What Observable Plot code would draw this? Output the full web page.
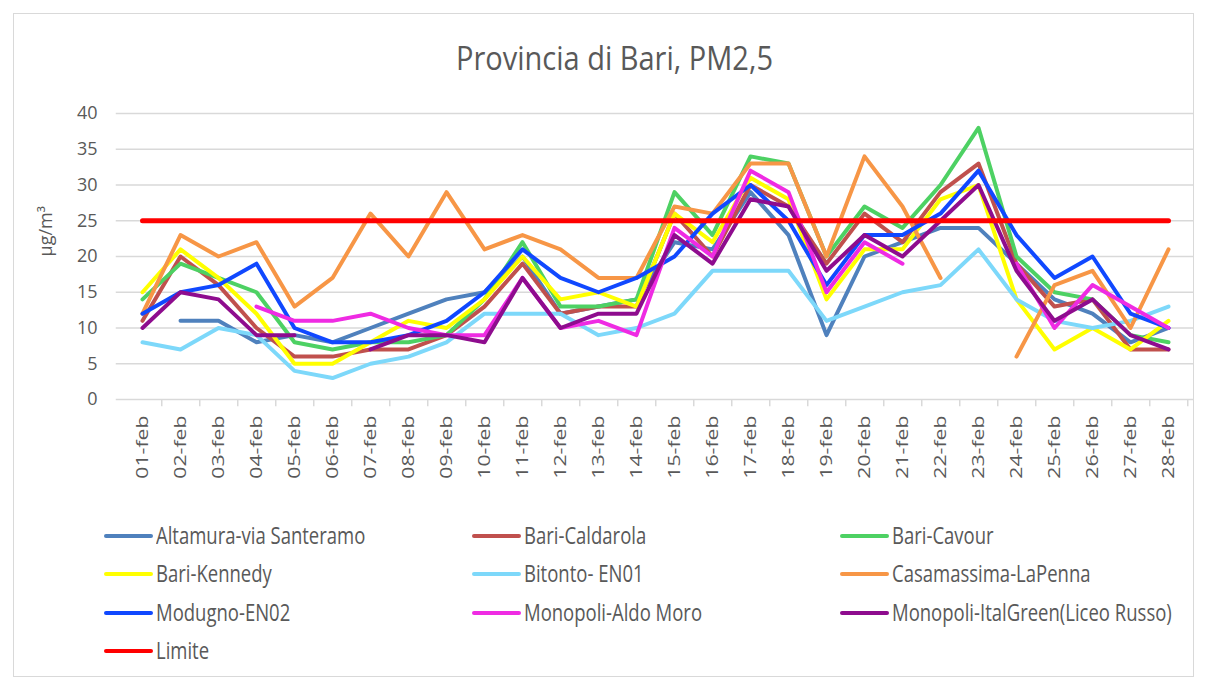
<!DOCTYPE html>
<html>
<head>
<meta charset="utf-8">
<script src="https://cdn.jsdelivr.net/npm/d3@7"></script>
<script src="https://cdn.jsdelivr.net/npm/@observablehq/plot@0.6"></script>
<style>
  body { margin: 0; background: #fff; font-family: "Open Sans", sans-serif; }
  #wrap { position: relative; width: 1205px; height: 682px; overflow: hidden; }
  #frame { position: absolute; left: 13px; top: 13px; width: 1181px; height: 664px; border: 1px solid #d9d9d9; box-sizing: border-box; }
  #title { position: absolute; left: 12px; top: 42px; width: 1205px; text-align: center; font-size: 29px; line-height: 32px; color: #595959; transform: scaleY(1.1); }
  #chart { position: absolute; left: 0; top: 0; }
  .lg-sw { position: absolute; width: 49px; height: 4px; border-radius: 2px; }
  .lg-tx { position: absolute; font-size: 18.5px; line-height: 20px; color: #595959; white-space: nowrap; transform: scaleY(1.24); transform-origin: left center; }
</style>
</head>
<body>
<div id="wrap">
  <div id="frame"></div>
  <div id="title">Provincia di Bari, PM2,5</div>
  <div id="chart"></div>
  <div id="legend"></div>
</div>
<script>
// ---------- DATA ----------
const dates = ["01-feb","02-feb","03-feb","04-feb","05-feb","06-feb","07-feb","08-feb","09-feb","10-feb",
  "11-feb","12-feb","13-feb","14-feb","15-feb","16-feb","17-feb","18-feb","19-feb","20-feb",
  "21-feb","22-feb","23-feb","24-feb","25-feb","26-feb","27-feb","28-feb"];

const altamura    = [null,11,11,8,9,8,10,12,14,15,20,12,13,14,22,21,29,23,9,20,22,24,24,19,14,12,8,10];
const caldarola   = [11,20,16,10,6,6,7,7,9,13,19,12,13,13,26,20,30,27,19,26,22,29,33,19,13,14,7,7];
const cavour      = [14,19,17,15,8,7,8,8,9,14,22,13,13,14,29,23,34,33,20,27,24,30,38,20,15,14,9,8];
const kennedy     = [15,21,17,12,5,5,8,11,10,14,20,14,15,13,26,22,31,28,14,21,21,28,30,14,7,10,7,11];
const bitonto     = [8,7,10,9,4,3,5,6,8,12,12,12,9,10,12,18,18,18,11,13,15,16,21,14,11,10,11,13];
const casamassima = [12,23,20,22,13,17,26,20,29,21,23,21,17,17,27,26,33,33,20,34,27,17,null,6,16,18,10,21];
const modugno     = [12,15,16,19,10,8,8,9,11,15,21,17,15,17,20,26,30,25,16,23,23,26,32,23,17,20,12,10];
const aldoMoro    = [null,null,null,13,11,11,12,10,9,9,17,10,11,9,24,20,32,29,15,22,19,null,null,19,10,16,13,10];
const italGreen   = [10,15,14,9,9,null,7,9,9,8,17,10,12,12,23,19,28,27,18,23,20,25,30,18,11,14,9,7];
const limite      = [25,25,25,25,25,25,25,25,25,25,25,25,25,25,25,25,25,25,25,25,25,25,25,25,25,25,25,25];

const seriesNames = ["Altamura-via Santeramo","Bari-Caldarola","Bari-Cavour","Bari-Kennedy","Bitonto- EN01",
  "Casamassima-LaPenna","Modugno-EN02","Monopoli-Aldo Moro","Monopoli-ItalGreen(Liceo Russo)","Limite"];
const seriesValues = [altamura, caldarola, cavour, kennedy, bitonto, casamassima, modugno, aldoMoro, italGreen, limite];
const seriesColors = ["#4f81bd","#c0504d","#4dd163","#ffff00","#7dd8fa","#f79646","#1048ff","#ef2be3","#8e0c8e","#ff0000"];

const yTicks = [0,5,10,15,20,25,30,35,40];
const yLabel = "µg/m³";

// ---------- CHART ----------
const rows = seriesNames.flatMap((name, k) =>
  dates.map((d, i) => ({series: name, date: d, value: seriesValues[k][i]})));

const lineMarks = seriesNames.map((name, k) =>
  Plot.line(rows.filter(r => r.series === name), {
    x: "date", y: "value",
    stroke: seriesColors[k],
    strokeWidth: name === "Limite" ? 5 : 4,
    strokeLinejoin: "round", strokeLinecap: "round"
  }));

const chart = Plot.plot({
  width: 1205,
  height: 500,
  marginTop: 113,
  marginBottom: 101,
  marginLeft: 115.75,
  marginRight: 11.25,
  style: {color: "#595959", fontFamily: "'Open Sans', sans-serif", background: "transparent"},
  x: {type: "point", domain: dates, padding: 0.5, label: null},
  y: {domain: [0, 40], label: null},
  marks: [
    Plot.ruleY(yTicks, {stroke: "#d9d9d9", strokeWidth: 1.5}),
    Plot.ruleX(dates, {x: d => d, dx: 19.25, y1: 0, y2: -1, stroke: "#d9d9d9", strokeWidth: 1.5}),
    Plot.axisY({ticks: yTicks, tickSize: 0, tickPadding: 18.75, fontSize: 18, label: null}),
    Plot.axisX({tickRotate: -90, tickSize: 0, tickPadding: 16, fontSize: 17, label: null}),
    Plot.text([yLabel], {frameAnchor: "left", dx: -70, rotate: -90, fontSize: 18, fill: "#595959"}),
    ...lineMarks
  ]
});
document.getElementById("chart").appendChild(chart);

// stretch rotated x labels along their length (reference text is taller)
d3.select(chart).selectAll('g[aria-label="x-axis tick label"] text').each(function() {
  const t = this.getAttribute("transform") || "";
  this.setAttribute("transform", t + " scale(1.25,1)");
});

// ---------- LEGEND ----------
const legend = document.getElementById("legend");
seriesNames.forEach((name, i) => {
  const col = i % 3, row = Math.floor(i / 3);
  const x0 = 104 + col * 368;
  const yc = [536, 574, 613, 651][row];
  const sw = document.createElement("div");
  sw.className = "lg-sw";
  sw.style.left = x0 + "px";
  sw.style.top = (yc - 2) + "px";
  sw.style.background = seriesColors[i];
  legend.appendChild(sw);
  const tx = document.createElement("div");
  tx.className = "lg-tx";
  tx.style.left = (x0 + 52) + "px";
  tx.style.top = (yc - 11) + "px";
  tx.textContent = name;
  legend.appendChild(tx);
});
</script>
</body>
</html>
